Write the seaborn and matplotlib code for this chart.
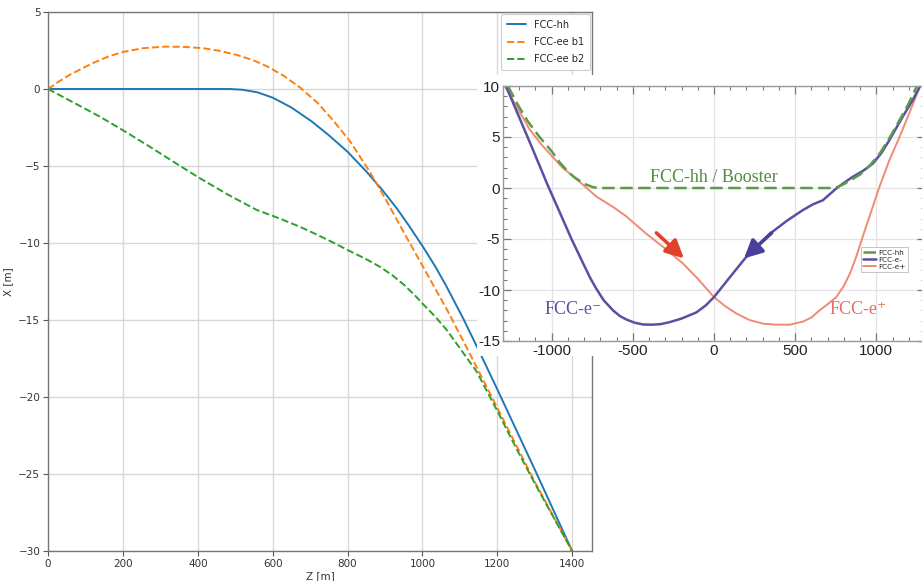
import numpy as np
import pandas as pd
import matplotlib
matplotlib.use("Agg")
import matplotlib.pyplot as plt
from matplotlib.patches import Rectangle
from matplotlib.ticker import MultipleLocator, FuncFormatter
import seaborn as sns

# ---------------- main chart data ----------------
hh_z = [0, 200, 400, 486, 520, 560, 600, 650, 704, 750, 800, 850, 891, 930, 962, 1003, 1035, 1065, 1110, 1154, 1200, 1250, 1300, 1350, 1400]
hh_x = [0, 0, 0, 0, -0.05, -0.22, -0.56, -1.2, -2.1, -3.0, -4.07, -5.35, -6.5, -7.7, -8.8, -10.3, -11.55, -12.85, -14.95, -17.15, -19.5, -22.1, -24.7, -27.35, -30.0]

b1_z = [0, 30, 60, 117, 160, 199, 254, 311, 360, 414, 460, 506, 550, 587, 630, 673, 720, 762, 807, 860, 905, 949, 1003, 1065, 1110, 1154, 1200, 1250, 1300, 1350, 1400]
b1_x = [0, 0.5, 0.95, 1.65, 2.1, 2.4, 2.65, 2.75, 2.74, 2.65, 2.47, 2.2, 1.85, 1.45, 0.85, 0.1, -0.9, -2.05, -3.4, -5.4, -7.3, -9.25, -11.6, -14.3, -16.4, -18.5, -20.7, -23.1, -25.5, -27.75, -30.0]

b2_z = [0, 70, 139, 205, 272, 340, 406, 480, 530, 558, 590, 620, 673, 709, 760, 804, 850, 887, 920, 950, 980, 1003, 1035, 1065, 1105, 1145, 1200, 1250, 1300, 1350, 1400]
b2_x = [0, -0.9, -1.8, -2.75, -3.75, -4.8, -5.8, -6.85, -7.5, -7.86, -8.15, -8.42, -8.95, -9.35, -9.95, -10.5, -11.05, -11.55, -12.1, -12.7, -13.4, -14.0, -14.8, -15.65, -17.0, -18.35, -20.9, -23.3, -25.6, -27.8, -30.0]

main_labels = ["FCC-hh", "FCC-ee b1", "FCC-ee b2"]

# ---------------- inset data ----------------
in_hh_z = [-1270, -1210, -1150, -1075, -1000, -950, -900, -860, -827, -790, -745, -700, 730, 765, 800, 850, 898, 960, 1022, 1085, 1145, 1200, 1250]
in_hh_x = [10, 8.2, 6.6, 5.0, 3.6, 2.5, 1.6, 1.05, 0.7, 0.35, 0.08, 0, 0, 0.12, 0.38, 0.85, 1.3, 2.2, 3.4, 5.0, 6.7, 8.3, 10]

in_em_z = [-1282, -1210, -1138, -1080, -1028, -950, -878, -800, -760, -724, -680, -622, -580, -539, -490, -437, -380, -330, -273, -200, -109, -50, 0, 100, 199, 343, 450, 548, 610, 671, 753, 800, 855, 920, 979, 1030, 1081, 1120, 1163, 1220, 1270]
in_em_x = [10, 7.3, 4.6, 2.4, 0.4, -2.4, -5.0, -7.6, -8.9, -9.9, -11.0, -12.0, -12.55, -12.9, -13.2, -13.38, -13.4, -13.35, -13.15, -12.8, -12.2, -11.5, -10.7, -8.7, -6.75, -4.5, -3.2, -2.16, -1.6, -1.2, -0.05, 0.5, 1.1, 1.7, 2.4, 3.4, 4.7, 5.8, 7.0, 8.5, 10]

in_ep_z = [-1288, -1210, -1134, -1060, -991, -940, -888, -806, -724, -622, -539, -416, -300, -191, -100, 0, 70, 137, 220, 302, 380, 466, 548, 600, 650, 700, 753, 800, 840, 876, 920, 958, 1019, 1080, 1143, 1210, 1270]
in_ep_x = [10, 7.8, 5.7, 4.2, 3.0, 2.1, 1.4, 0.3, -0.85, -1.85, -2.8, -4.5, -5.95, -7.4, -8.9, -10.7, -11.6, -12.3, -12.95, -13.3, -13.4, -13.4, -13.1, -12.7, -12.0, -11.4, -10.7, -9.6, -8.3, -6.75, -4.6, -2.8, 0.1, 2.7, 5.0, 7.6, 10]

inset_labels = ["FCC-hh", "FCC-e-", "FCC-e+"]
inset_xticks = [-1000, -500, 0, 500, 1000]
inset_yticks = [-15, -10, -5, 0, 5, 10]

# ---------------- figure ----------------
sns.set_theme(style="whitegrid")
plt.rcParams["font.family"] = ["DejaVu Sans"]

fig = plt.figure(figsize=(9.22, 5.81), dpi=100)
fig.patch.set_facecolor("white")

ax = fig.add_axes([48 / 922, 1 - 551 / 581, (592 - 48) / 922, (551 - 12) / 581])
ax.set_facecolor("white")

df_hh = pd.DataFrame({"Z": hh_z, "X": hh_x})
df_b1 = pd.DataFrame({"Z": b1_z, "X": b1_x})
df_b2 = pd.DataFrame({"Z": b2_z, "X": b2_x})

sns.lineplot(data=df_hh, x="Z", y="X", ax=ax, color="#1f77b4", lw=1.4, label=main_labels[0], sort=False)
sns.lineplot(data=df_b1, x="Z", y="X", ax=ax, color="#ff7f0e", lw=1.4, label=main_labels[1], sort=False)
sns.lineplot(data=df_b2, x="Z", y="X", ax=ax, color="#2ca02c", lw=1.4, label=main_labels[2], sort=False)
ax.lines[1].set_linestyle((0, (3.7, 1.6)))
ax.lines[2].set_linestyle((0, (3.7, 1.6)))
for ln in ax.lines:
    ln.set_solid_joinstyle("round")
    ln.set_dash_joinstyle("round")

ax.set_xlim(0, 1453)
ax.set_ylim(-30, 5)
ax.xaxis.set_major_locator(MultipleLocator(200))
ax.yaxis.set_major_locator(MultipleLocator(5))
ax.grid(True, color="#d8d8d8", lw=1.0)
for s in ax.spines.values():
    s.set_color("#777777")
    s.set_linewidth(1.0)
ax.tick_params(axis="both", which="major", labelsize=7.5, labelcolor="#333333",
               length=3.5, width=0.8, color="#555555", direction="out",
               left=True, bottom=True, pad=2)
ax.set_xlabel("Z [m]", fontsize=7.5, color="#333333", labelpad=2)
ax.set_ylabel("X [m]", fontsize=7.5, color="#333333", labelpad=4)
leg = ax.legend(loc="upper right", fontsize=7, frameon=True, framealpha=1,
                edgecolor="#cccccc", handlelength=2.0, borderpad=0.6,
                labelspacing=0.75, borderaxespad=0.2)
leg.get_frame().set_linewidth(0.8)

# white backdrop of the pasted inset picture
fig.patches.append(Rectangle((477 / 922, 1 - 356 / 581), 445 / 922, 281 / 581,
                             transform=fig.transFigure, facecolor="white",
                             edgecolor="none", zorder=1))

# ---------------- inset ----------------
ix0, ix1 = 503, 925
iy0, iy1 = 86, 341
axi = fig.add_axes([ix0 / 922, 1 - iy1 / 581, (ix1 - ix0) / 922, (iy1 - iy0) / 581], zorder=2)
axi.set_facecolor("white")

df_ihh = pd.DataFrame({"Z": in_hh_z, "X": in_hh_x})
df_iem = pd.DataFrame({"Z": in_em_z, "X": in_em_x})
df_iep = pd.DataFrame({"Z": in_ep_z, "X": in_ep_x})

sns.lineplot(data=df_iep, x="Z", y="X", ax=axi, color="#ef8a76", lw=1.4, label=inset_labels[2], sort=False)
sns.lineplot(data=df_iem, x="Z", y="X", ax=axi, color="#5a4fa3", lw=1.8, label=inset_labels[1], sort=False)
sns.lineplot(data=df_ihh, x="Z", y="X", ax=axi, color="#5a9a48", lw=1.8, label=inset_labels[0], sort=False)
axi.lines[2].set_linestyle((0, (5, 2.2)))
for ln in axi.lines:
    ln.set_solid_joinstyle("round")

axi.set_xlim(-1300, 1300)
axi.set_ylim(-15, 10)
axi.set_xticks(inset_xticks)
axi.set_yticks(inset_yticks)
axi.xaxis.set_minor_locator(MultipleLocator(100))
axi.yaxis.set_minor_locator(MultipleLocator(1))
fmt = FuncFormatter(lambda v, p: f"{v:g}")
axi.xaxis.set_major_formatter(fmt)
axi.yaxis.set_major_formatter(fmt)
axi.grid(True, which="major", color="#e3e3e3", lw=0.9)
axi.set_xlabel("")
axi.set_ylabel("")
for s in axi.spines.values():
    s.set_color("#9a9a9a")
    s.set_linewidth(1.0)
axi.tick_params(axis="both", which="both", direction="in", top=True, right=True,
                bottom=True, left=True, color="#777777")
axi.tick_params(axis="both", which="major", length=6, width=0.9, labelsize=11, pad=2)
axi.tick_params(axis="both", which="minor", length=3, width=0.8)
for lab in axi.get_xticklabels() + axi.get_yticklabels():
    lab.set_family(["Liberation Sans", "DejaVu Sans"])
    lab.set_color("#222222")

serif = ["Liberation Serif", "DejaVu Serif"]
axi.text(0, 1.05, "FCC-hh / Booster", color="#4e8f3e", fontsize=13, family=serif,
         ha="center", va="center")
axi.text(-866, -11.9, "FCC-e\u207b", color="#5a4fa3", fontsize=13, family=serif,
         ha="center", va="center")
axi.text(886, -11.9, "FCC-e\u207a", color="#e0735d", fontsize=13, family=serif,
         ha="center", va="center")

axi.annotate("", xy=(-185, -6.9), xytext=(-355, -4.4),
             arrowprops=dict(arrowstyle="-|>,head_length=0.9,head_width=0.45",
                             color="#e0432c", lw=2.6, shrinkA=0, shrinkB=0))
axi.annotate("", xy=(185, -6.9), xytext=(355, -4.4),
             arrowprops=dict(arrowstyle="-|>,head_length=0.9,head_width=0.45",
                             color="#4b3f9c", lw=2.6, shrinkA=0, shrinkB=0))

h, l = axi.get_legend_handles_labels()
order = [2, 1, 0]
ileg = axi.legend([h[i] for i in order], [l[i] for i in order], loc="lower left",
                  bbox_to_anchor=(0.848, 0.27), fontsize=5.2, frameon=True,
                  framealpha=1, edgecolor="#bbbbbb", handlelength=1.8,
                  borderpad=0.3, labelspacing=0.15, handletextpad=0.3,
                  borderaxespad=0, fancybox=False)
ileg.get_frame().set_linewidth(0.6)

fig.savefig("out.png", dpi=100, facecolor="white")
